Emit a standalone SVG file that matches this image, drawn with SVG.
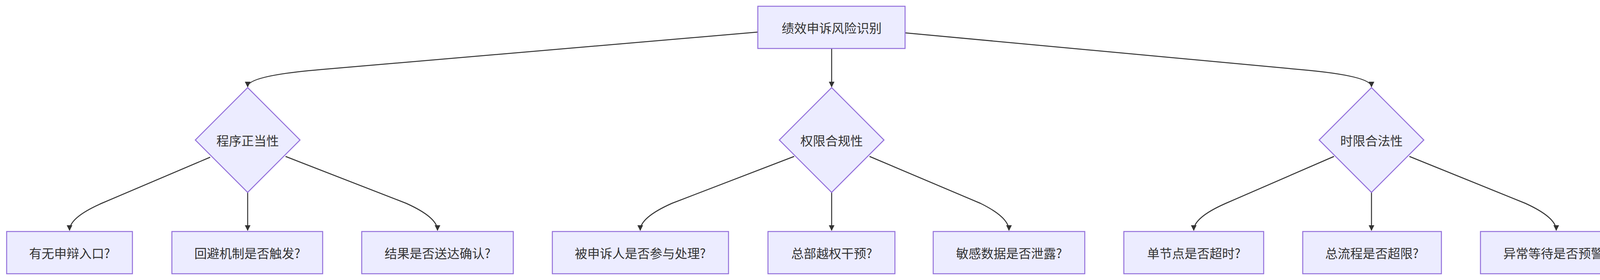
<svg xmlns="http://www.w3.org/2000/svg" width="4193" height="716" viewBox="0 0 4193 716">
<style>
.n{fill:#ECECFF;stroke:#9370DB;stroke-width:2.5}
.t{font-family:"Noto Sans CJK SC","Liberation Sans",sans-serif;font-size:32px;fill:#333;text-anchor:middle;dominant-baseline:central}
.e{fill:none;stroke:#333;stroke-width:2.5}
</style>
<defs><marker id="a" viewBox="0 0 10 10" refX="9" refY="5" markerWidth="6" markerHeight="6" markerUnits="strokeWidth" orient="auto"><path d="M0,0L10,5L0,10z" fill="#333"/></marker></defs>
<rect width="4193" height="716" fill="#fff"/>
<g id="edges">
<path class="e" marker-end="url(#a)" d="M1940,82 L820,178 Q634,194 634,222"/>
<path class="e" marker-end="url(#a)" d="M2129,124 L2129,222"/>
<path class="e" marker-end="url(#a)" d="M2317,84 L3330,178 Q3511,194 3511,222"/>
<path class="e" marker-end="url(#a)" d="M538,402 L260,520 Q178,556 178,589"/>
<path class="e" marker-end="url(#a)" d="M634,492 L634,589"/>
<path class="e" marker-end="url(#a)" d="M731,400 L1040,520 Q1120,556 1120,589"/>
<path class="e" marker-end="url(#a)" d="M2033,400 L1720,520 Q1639,556 1639,589"/>
<path class="e" marker-end="url(#a)" d="M2129,492 L2129,589"/>
<path class="e" marker-end="url(#a)" d="M2226,400 L2510,520 Q2583,556 2583,589"/>
<path class="e" marker-end="url(#a)" d="M3415,400 L3138,520 Q3056,556 3056,589"/>
<path class="e" marker-end="url(#a)" d="M3511,492 L3511,589"/>
<path class="e" marker-end="url(#a)" d="M3608,400 L3905,520 Q3984,556 3984,589"/>
</g>
<g id="root"><rect class="n" x="1940" y="16" width="377" height="108"/><text class="t" x="2129" y="70">绩效申诉风险识别</text></g>
<g id="d1"><polygon class="n" points="634,224 768,358 634,492 500,358"/><text class="t" x="634" y="358">程序正当性</text></g>
<g id="d2"><polygon class="n" points="2129,224 2263,358 2129,492 1995,358"/><text class="t" x="2129" y="358">权限合规性</text></g>
<g id="d3"><polygon class="n" points="3511,224 3645,358 3511,492 3377,358"/><text class="t" x="3511" y="358">时限合法性</text></g>
<g id="l1"><rect class="n" x="17" y="592" width="322" height="108"/><text class="t" x="178" y="646">有无申辩入口?</text></g>
<g id="l2"><rect class="n" x="440" y="592" width="386" height="108"/><text class="t" x="633" y="646">回避机制是否触发?</text></g>
<g id="l3"><rect class="n" x="926" y="592" width="388" height="108"/><text class="t" x="1120" y="646">结果是否送达确认?</text></g>
<g id="l4"><rect class="n" x="1414" y="592" width="451" height="108"/><text class="t" x="1639" y="646">被申诉人是否参与处理?</text></g>
<g id="l5"><rect class="n" x="1966" y="592" width="325" height="108"/><text class="t" x="2129" y="646">总部越权干预?</text></g>
<g id="l6"><rect class="n" x="2389" y="592" width="388" height="108"/><text class="t" x="2583" y="646">敏感数据是否泄露?</text></g>
<g id="l7"><rect class="n" x="2877" y="592" width="358" height="108"/><text class="t" x="3056" y="646">单节点是否超时?</text></g>
<g id="l8"><rect class="n" x="3335" y="592" width="355" height="108"/><text class="t" x="3512" y="646">总流程是否超限?</text></g>
<g id="l9"><rect class="n" x="3790" y="592" width="389" height="108"/><text class="t" x="3984" y="646">异常等待是否预警?</text></g>
</svg>
